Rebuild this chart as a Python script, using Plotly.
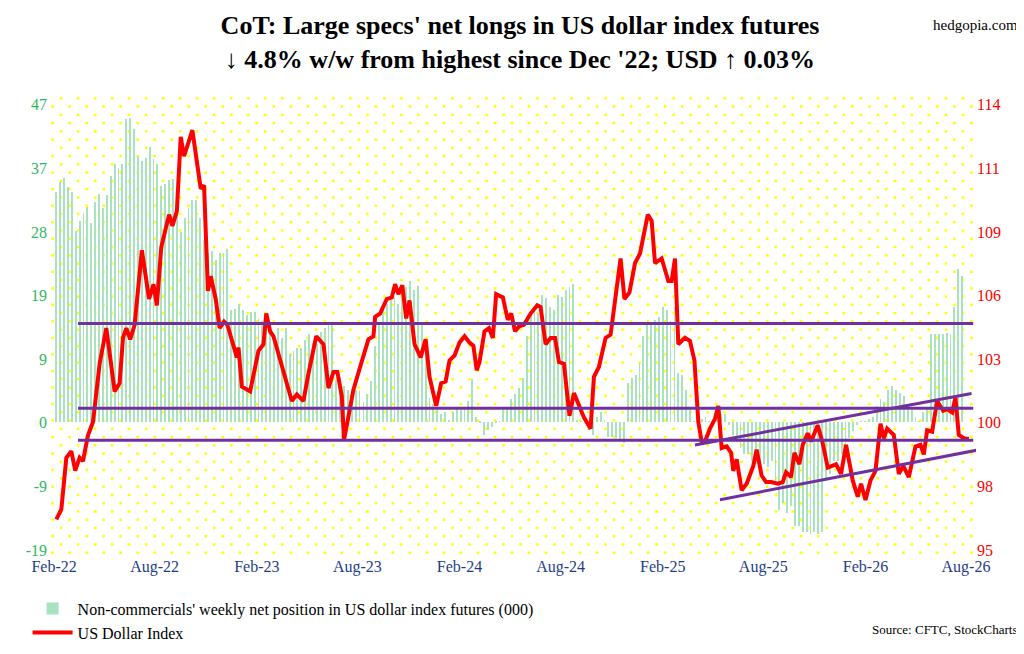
import numpy as np
import pandas as pd
import plotly.graph_objects as go

# US dollar index (days after 2022-02-01, index value)
usd_days = [4, 13, 22, 31, 38, 46, 52, 61, 70, 82, 94, 109, 118, 124, 130, 137, 145, 158, 171, 179,
            185, 193, 207, 213, 221, 228, 234, 249, 264, 270, 277, 282, 291, 298, 306, 312, 329, 332,
            338, 353, 368, 377, 382, 389, 395, 410, 428, 437, 449, 458, 472, 485, 494, 503, 510, 518,
            522, 527, 539, 551, 566, 575, 578, 587, 599, 608, 614, 620, 627, 634, 640, 649, 660, 669,
            676, 688, 697, 705, 712, 721, 730, 739, 748, 755, 761, 766, 775, 783, 790, 796, 808, 817,
            823, 830, 837, 846, 858, 870, 876, 885, 894, 902, 909, 918, 928, 936, 945, 954, 966, 972,
            981, 993, 1002, 1020, 1027, 1036, 1046, 1055, 1069, 1076, 1082, 1094, 1106, 1112, 1118,
            1124, 1136, 1145, 1153, 1160, 1166, 1172, 1181, 1190, 1196, 1202, 1211, 1219, 1223, 1229,
            1238, 1247, 1259, 1265, 1274, 1282, 1291, 1303, 1312, 1318, 1327, 1333, 1342, 1348, 1357,
            1363, 1375, 1384, 1393, 1408, 1417, 1426, 1438, 1447, 1453, 1461, 1470, 1479, 1488, 1494,
            1500, 1512, 1521, 1529, 1539, 1551, 1560, 1566, 1572, 1581, 1590, 1601, 1608, 1617, 1623,
            1629, 1638, 1647, 1653]
usd_vals = [96.31, 96.73, 98.94, 99.22, 98.39, 98.94, 98.8, 99.9, 100.46, 102.95, 104.47, 101.77,
            102.12, 104.05, 104.47, 103.99, 104.61, 107.79, 105.71, 106.34, 105.44, 107.93, 109.31,
            108.83, 109.45, 112.63, 111.8, 112.91, 110.42, 110.56, 106.06, 106.68, 105.71, 104.47,
            104.75, 104.61, 103.22, 103.64, 101.98, 101.77, 103.5, 103.78, 105.09, 104.33, 104.12,
            102.81, 101.36, 101.64, 101.36, 102.53, 104.12, 103.78, 101.91, 102.6, 102.6, 101.57,
            99.7, 100.32, 101.84, 102.81, 103.99, 104.12, 104.95, 105.09, 105.71, 105.78, 106.34,
            105.92, 106.3, 104.88, 105.65, 103.78, 103.22, 103.99, 102.39, 101.15, 102.12, 102.19,
            103.09, 103.3, 103.85, 104.12, 103.85, 103.71, 102.67, 103.02, 104.33, 104.47, 104.05,
            105.92, 105.78, 104.82, 105.09, 104.33, 104.54, 104.61, 105.09, 105.44, 105.37, 103.78,
            104.05, 104.05, 103.02, 102.95, 100.73, 101.7, 101.15, 100.66, 100.18, 102.39, 102.81,
            104.05, 104.19, 107.44, 105.71, 105.99, 107.24, 107.65, 109.31, 109.04, 107.24, 107.44,
            106.48, 106.48, 107.44, 103.78, 104.06, 103.92, 103.09, 100.46, 99.63, 99.63, 100.18,
            100.6, 101.15, 99.35, 99.42, 99.15, 98.38, 98.87, 97.55, 97.83, 98.59, 99.28, 98.18,
            97.9, 97.9, 97.83, 97.9, 98.32, 98.11, 99.15, 98.66, 99.49, 99.98, 99.63, 100.32, 99.56,
            98.52, 98.66, 98.25, 99.49, 97.97, 97.28, 97.83, 97.14, 97.97, 98.38, 100.39, 99.77,
            100.18, 99.91, 98.25, 98.59, 98.11, 99.42, 99.49, 99.08, 100.11, 100.05, 101.36, 100.94,
            101.01, 100.87, 101.5, 99.91, 99.77, 99.74]

# non-commercials' weekly net position (000 contracts), one value per week
net_pos = [34.1, 35.5, 36.2, 34.8, 34.1, 28.3, 29.8, 31.0, 31.9, 29.5, 32.6, 33.8, 31.7, 33.6, 36.5,
           38.2, 37.7, 38.2, 44.9, 45.1, 43.4, 39.4, 38.6, 39.1, 40.8, 38.9, 38.2, 35.0, 35.3, 35.8,
           36.0, 31.0, 28.1, 30.2, 31.7, 32.9, 32.9, 30.2, 26.9, 25.0, 25.4, 24.0, 25.0, 25.0, 25.7,
           16.6, 16.8, 17.5, 16.6, 15.8, 16.3, 16.3, 15.3, 14.9, 14.9, 14.1, 13.0, 13.9, 12.5, 13.9,
           10.1, 10.5, 11.0, 11.0, 12.2, 13.0, 11.7, 11.5, 13.4, 13.9, 14.4, 14.6, 6.2, 6.7, 5.3,
           4.8, 3.3, 4.8, 4.6, 2.9, 4.1, 6.0, 11.3, 14.7, 17.1, 17.5, 18.0, 18.5, 17.5, 19.7, 20.0,
           20.9, 19.5, 20.2, 14.7, 9.9, 3.6, 2.6, 1.7, 1.2, 1.4, 0.2, 1.4, 1.9, 1.7, 1.9, 3.1, 6.3,
           0.7, -0.2, -1.9, -1.2, -0.7, -0.2, 0.1, 1.9, 2.2, 3.4, 4.1, 5.0, 6.5, 12.7, 16.3, 17.1,
           16.1, 18.8, 18.3, 17.1, 16.6, 18.8, 18.5, 19.5, 20.0, 20.4, 0.2, 0.1, 0.1, -1.2, -1.9,
           0.7, 1.4, 0.2, -2.2, -2.2, -2.4, -2.6, -3.1, 5.8, 6.5, 7.0, 8.7, 12.7, 14.7, 14.7, 15.1,
           15.6, 17.1, 16.6, 14.9, 17.1, 7.2, 7.0, 4.8, 1.9, 0.1, 0.5, 0.5, 0.7, 0.1, 0.1, 1.0, 1.2,
           1.2, -0.5, -1.9, -2.9, -3.8, -4.8, -4.8, -5.8, -6.3, -5.8, -6.3, -6.7, -5.8, -8.7, -13.0,
           -12.0, -13.5, -12.5, -15.4, -15.4, -16.3, -16.3, -16.6, -16.3, -16.6, -16.3, -8.7, -7.7,
           -5.8, -5.8, -4.8, -3.8, -2.4, -1.4, -0.5, 0.1, 0.1, 0.5, 0.7, 2.4, 3.4, 2.9, 4.8, 5.3,
           4.8, 4.3, 3.8, 2.4, 1.7, 0.7, 0.1, 1.4, 1.9, 13.0, 13.0, 13.0, 13.0, 13.2, 13.0, 17.1,
           22.6, 21.6]

left_ticks = [47, 37, 28, 19, 9, 0, -9, -19]
right_ticks = [114, 111, 109, 106, 103, 100, 98, 95]
x_ticks = ["2022-02-01", "2022-08-01", "2023-02-01", "2023-08-01", "2024-02-01", "2024-08-01",
           "2025-02-01", "2025-08-01", "2026-02-01", "2026-08-01"]
x_labels = ["Feb-22", "Aug-22", "Feb-23", "Aug-23", "Feb-24", "Aug-24", "Feb-25", "Aug-25",
            "Feb-26", "Aug-26"]

# support/resistance levels and channel drawn on the chart
levels = [104.66, 101.05, 99.68]
upper_chan = (1154, 99.48, 1652, 101.68)
lower_chan = (1199, 97.15, 1692, 99.4)

base = pd.Timestamp("2022-02-01")
usd_dates = base + pd.to_timedelta(usd_days, unit="D")
bar_dates = pd.date_range("2022-02-05", periods=len(net_pos), freq="7D")

def day(d):
    return base + pd.Timedelta(days=d)

fig = go.Figure()

# yellow dotted background on the base (hidden) axes, data drawn on overlays above it
gx, gy = np.meshgrid(np.arange(0, 1.0001, 1 / 54), np.arange(0, 1.0001, 1 / 55))
gx = gx + np.where((np.arange(gy.shape[0]) % 2)[:, None] == 1, 0.5 / 54, 0)
fig.add_trace(go.Scatter(x=gx.ravel(), y=gy.ravel(), mode="markers",
                         marker=dict(color="#ffff00", size=2.5, symbol="square"),
                         hoverinfo="skip", showlegend=False))

fig.add_trace(go.Bar(x=bar_dates, y=net_pos, xaxis="x2", yaxis="y2",
                     marker=dict(color="#a8e2bf", line_width=0), width=1.6 * 86400000,
                     name="Non-commercials' weekly net position in US dollar index futures (000)"))
fig.add_trace(go.Scatter(x=usd_dates, y=usd_vals, xaxis="x2", yaxis="y3", mode="lines",
                         line=dict(color="#ff0000", width=4), name="US Dollar Index"))

purple = "#7030a0"
for lv in levels:
    fig.add_shape(type="line", xref="x2", yref="y3", x0=day(43), x1=day(1655), y0=lv, y1=lv,
                  line=dict(color=purple, width=3))
for c in (upper_chan, lower_chan):
    fig.add_shape(type="line", xref="x2", yref="y3", x0=day(c[0]), y0=c[1], x1=day(c[2]), y1=c[3],
                  line=dict(color=purple, width=3))

serif = "Liberation Serif"
fig.update_layout(
    width=1024, height=654,
    margin=dict(l=40, r=56, t=88, b=94),
    paper_bgcolor="white", plot_bgcolor="white",
    font=dict(family=serif, size=15, color="black"),
    title=dict(text="<b>CoT: Large specs' net longs in US dollar index futures<br>"
                    "↓ 4.8% w/w from highest since Dec '22; USD ↑ 0.03%</b>",
               x=0.5, y=0.96, xanchor="center", yanchor="top", font=dict(size=26)),
    bargap=0,
    showlegend=True,
    legend=dict(x=-0.022, y=-0.08, xanchor="left", yanchor="top", bgcolor="rgba(0,0,0,0)",
                font=dict(size=16), tracegroupgap=0, itemwidth=40),
    xaxis=dict(range=[-0.005, 1.005], visible=False),
    yaxis=dict(range=[-0.005, 1.005], visible=False),
    xaxis2=dict(type="date", range=[day(-11), day(1660)], overlaying="x", tickvals=x_ticks,
                ticktext=x_labels, side="bottom",
                tickfont=dict(color="#1f3c88", size=16), showgrid=False, ticks="", zeroline=False),
    yaxis2=dict(range=[-19.72, 48.3], overlaying="y", side="left",
                tickvals=[47, 37.57, 28.14, 18.71, 9.29, -0.14, -9.57, -19],
                ticktext=[str(t) for t in left_ticks], tickfont=dict(color="#2eb85c", size=16),
                showgrid=False, zeroline=False),
    yaxis3=dict(range=[94.79, 114.37], overlaying="y", side="right",
                tickvals=[114, 111.29, 108.57, 105.86, 103.14, 100.43, 97.71, 95],
                ticktext=[str(t) for t in right_ticks], tickfont=dict(color="#ff0000", size=16),
                showgrid=False, zeroline=False),
)

fig.add_annotation(text="hedgopia.com", xref="paper", yref="paper", x=1.047, y=1.176,
                   xanchor="right", yanchor="top", showarrow=False, font=dict(size=15))
fig.add_annotation(text="Source: CFTC, StockCharts", xref="paper", yref="paper", x=1.047, y=-0.163,
                   xanchor="right", yanchor="middle", showarrow=False, font=dict(size=13))

fig.write_html("out.html")
